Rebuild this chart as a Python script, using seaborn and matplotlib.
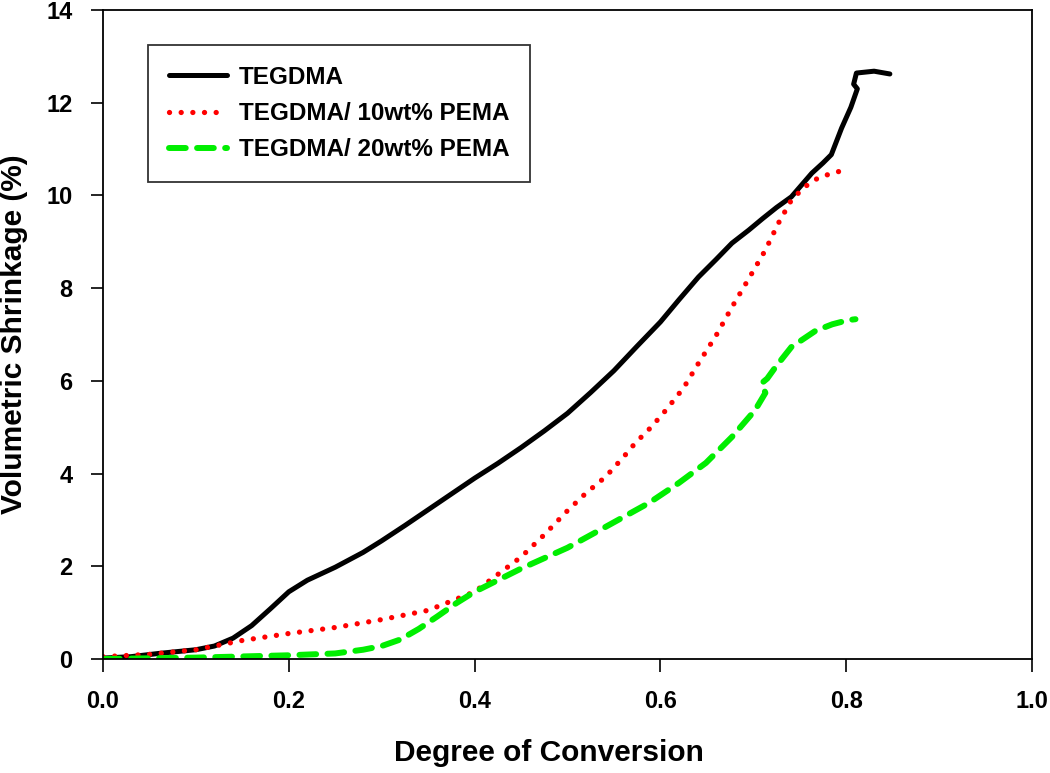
import pandas as pd
import numpy as np
import seaborn as sns
import matplotlib.pyplot as plt

x_teg = [0.0, 0.03, 0.06, 0.10, 0.12, 0.14, 0.16, 0.18, 0.20, 0.22, 0.25, 0.28,
         0.30, 0.325, 0.35, 0.375, 0.40, 0.425, 0.45, 0.475, 0.50, 0.525, 0.55,
         0.575, 0.60, 0.62, 0.641, 0.66, 0.677, 0.695, 0.71, 0.725, 0.741, 0.763,
         0.775, 0.784, 0.795, 0.805, 0.812, 0.808, 0.811, 0.83, 0.847]
y_teg = [0.02, 0.05, 0.12, 0.20, 0.28, 0.45, 0.72, 1.08, 1.45, 1.70, 1.98, 2.30,
         2.55, 2.88, 3.22, 3.56, 3.90, 4.22, 4.56, 4.92, 5.30, 5.75, 6.22,
         6.75, 7.27, 7.75, 8.24, 8.62, 8.97, 9.25, 9.50, 9.74, 9.97, 10.48,
         10.70, 10.88, 11.45, 11.90, 12.30, 12.40, 12.64, 12.68, 12.62]

x_p10 = [0.0, 0.05, 0.10, 0.15, 0.20, 0.25, 0.30, 0.35, 0.40, 0.42, 0.45, 0.475,
         0.50, 0.52, 0.541, 0.56, 0.573, 0.59, 0.606, 0.625, 0.641, 0.66, 0.677,
         0.695, 0.713, 0.727, 0.741, 0.755, 0.77, 0.785, 0.799]
y_p10 = [0.05, 0.10, 0.20, 0.40, 0.55, 0.68, 0.85, 1.05, 1.45, 1.75, 2.20, 2.68,
         3.20, 3.58, 3.93, 4.35, 4.66, 5.00, 5.37, 5.85, 6.38, 6.98, 7.59,
         8.20, 8.82, 9.40, 9.90, 10.18, 10.38, 10.48, 10.55]

x_p20 = [0.0, 0.10, 0.20, 0.25, 0.28, 0.30, 0.32, 0.34, 0.36, 0.38, 0.40, 0.45,
         0.50, 0.541, 0.588, 0.62, 0.649, 0.677, 0.702, 0.713, 0.709, 0.715,
         0.724, 0.741, 0.767, 0.785, 0.802, 0.81]
y_p20 = [0.0, 0.03, 0.08, 0.12, 0.20, 0.28, 0.42, 0.65, 0.92, 1.20, 1.45, 1.95,
         2.40, 2.85, 3.37, 3.80, 4.23, 4.79, 5.37, 5.74, 5.95, 6.05,
         6.30, 6.73, 7.08, 7.22, 7.31, 7.33]

labels = ['TEGDMA', 'TEGDMA/ 10wt% PEMA', 'TEGDMA/ 20wt% PEMA']

df = pd.concat([
    pd.DataFrame({'dc': x_teg, 'vs': y_teg, 'resin': labels[0]}),
    pd.DataFrame({'dc': x_p10, 'vs': y_p10, 'resin': labels[1]}),
    pd.DataFrame({'dc': x_p20, 'vs': y_p20, 'resin': labels[2]}),
], ignore_index=True)

sns.set_style('ticks')
plt.rcParams['font.family'] = ['Liberation Sans', 'DejaVu Sans']
plt.rcParams['font.weight'] = 'bold'
plt.rcParams['text.color'] = 'black'
plt.rcParams['axes.labelcolor'] = 'black'

fig = plt.figure(figsize=(10.5, 7.73), dpi=100)
ax = fig.add_axes([103 / 1050, 1 - 659 / 773, 929 / 1050, 649 / 773])

palette = {labels[0]: '#000000', labels[1]: '#ff0000', labels[2]: '#00ee00'}
widths = {labels[0]: 3.6, labels[1]: 3.8, labels[2]: 4.3}
dashes = {labels[0]: '', labels[1]: (0.01, 2.2), labels[2]: (2.8, 1.9)}

for lab in labels:
    sub = df[df.resin == lab]
    sns.lineplot(data=sub, x='dc', y='vs', sort=False, estimator=None,
                 color=palette[lab], lw=widths[lab], label=lab, ax=ax)
    l = ax.lines[-1]
    l.set_solid_capstyle('round')
    l.set_solid_joinstyle('round')
    l.set_dash_capstyle('round')
    if dashes[lab]:
        l.set_dashes(dashes[lab])

ax.set_xlim(0, 1.0)
ax.set_ylim(0, 14)
ax.set_xticks(np.arange(0, 1.01, 0.2))
ax.set_xticklabels(['%.1f' % v for v in np.arange(0, 1.01, 0.2)])
ax.set_yticks(range(0, 15, 2))
ax.tick_params(direction='out', length=9, width=1.2, labelsize=17,
               colors='black', pad=13)
for s in ax.spines.values():
    s.set_linewidth(1.3)
    s.set_color('black')

ax.set_xlabel('Degree of Conversion', fontsize=21.5, fontweight='bold')
ax.xaxis.set_label_coords(0.48, -0.123)
ax.set_ylabel('Volumetric Shrinkage (%)', fontsize=21.5, fontweight='bold', labelpad=13)

leg = ax.legend(loc='upper left', bbox_to_anchor=(45 / 929, 614 / 649), borderaxespad=0,
                fontsize=17.5, frameon=True, fancybox=False, edgecolor='black',
                handlelength=2.4, handletextpad=0.5, borderpad=0.85,
                labelspacing=0.55)
leg.get_frame().set_linewidth(1.3)

fig.savefig('out.png', dpi=100)
